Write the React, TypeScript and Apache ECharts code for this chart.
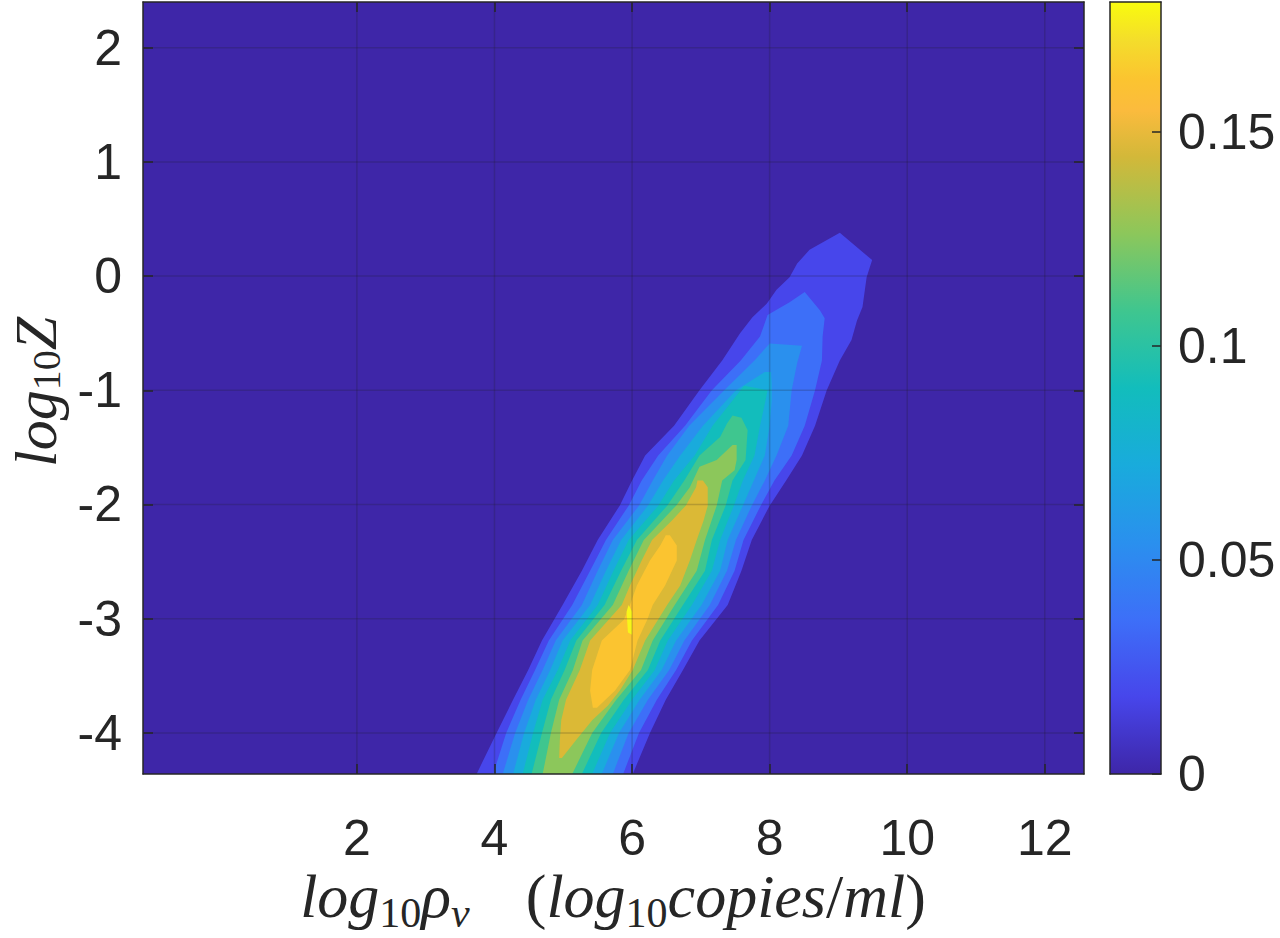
import React, { useEffect, useRef } from "react";
import * as echarts from "echarts";

// ---- axes ----
const X_MIN = -1.11;
const X_MAX = 12.57;
const Y_MIN = -4.36;
const Y_MAX = 2.4;
const X_TICKS = [2, 4, 6, 8, 10, 12];
const Y_TICKS = [-4, -3, -2, -1, 0, 1, 2];
const CB_MIN = 0;
const CB_MAX = 0.1804;
const CB_TICKS = [0, 0.05, 0.1, 0.15];

// parula colours of the 11 filled regions (background + 10 contour levels)
const LEVEL_COLORS = [
  "#3e26a8", "#4746eb", "#3d6ff8", "#2a90ee", "#19abdc", "#12bdbc",
  "#3fc68f", "#8cc75b", "#dbb936", "#fbc430", "#f8f619",
];
const COLORBAR_STOPS: [number, string][] = [
  [0, "#3e26a8"], [0.1, "#4746eb"], [0.2, "#3d6ff8"], [0.3, "#2a90ee"],
  [0.4, "#19abdc"], [0.5, "#12bdbc"], [0.6, "#3fc68f"], [0.7, "#8cc75b"],
  [0.8, "#d3b839"], [0.86, "#fbbb3d"], [0.9, "#fbc430"], [0.95, "#f4dd2b"],
  [1, "#f9fb0e"],
];

// ---- contour regions [log10 rho_v, log10 Z] (outer to inner) ----
const CONTOUR_1 = [
  [3.74, -4.36], [4.03, -4.0], [4.27, -3.71], [4.49, -3.45], [4.69, -3.19], [4.99, -2.88],
  [5.27, -2.58], [5.5, -2.31], [5.82, -2.01], [6.0, -1.79], [6.19, -1.57], [6.61, -1.31],
  [6.98, -1.0], [7.31, -0.74], [7.57, -0.5], [7.75, -0.36], [7.96, -0.24], [8.1, -0.12],
  [8.29, -0.01], [8.4, 0.11], [8.58, 0.23], [9.02, 0.38],
  [9.49, 0.14], [9.41, -0.01], [9.35, -0.27], [9.27, -0.39], [9.19, -0.56], [9.02, -0.74],
  [8.83, -1.0], [8.66, -1.31], [8.47, -1.57], [8.24, -1.79], [8.0, -2.01], [7.74, -2.31],
  [7.59, -2.58], [7.39, -2.88], [6.98, -3.19], [6.74, -3.45], [6.49, -3.71], [6.26, -4.0],
  [6.01, -4.36],
];
const CONTOUR_2 = [
  [3.98, -4.36], [4.17, -4.0], [4.38, -3.71], [4.59, -3.45], [4.79, -3.19], [5.13, -2.88],
  [5.39, -2.58], [5.62, -2.31], [5.95, -2.01], [6.14, -1.79], [6.38, -1.57], [6.77, -1.31],
  [7.16, -1.0], [7.58, -0.74], [7.86, -0.53], [7.97, -0.34], [8.29, -0.23], [8.51, -0.14],
  [8.73, -0.3], [8.8, -0.37], [8.77, -0.53], [8.76, -0.74], [8.66, -1.0], [8.51, -1.31],
  [8.32, -1.57], [8.07, -1.79], [7.87, -2.01], [7.62, -2.31], [7.49, -2.58], [7.25, -2.88],
  [6.87, -3.19], [6.64, -3.45], [6.36, -3.71], [6.1, -4.0], [5.87, -4.36],
];
const CONTOUR_3 = [
  [4.12, -4.36], [4.3, -4.0], [4.49, -3.71], [4.7, -3.45], [4.89, -3.19], [5.27, -2.88],
  [5.5, -2.58], [5.72, -2.31], [6.1, -2.01], [6.3, -1.79], [6.51, -1.57], [6.83, -1.31],
  [7.34, -1.0], [7.78, -0.74], [8.0, -0.59],
  [8.47, -0.61], [8.4, -0.76], [8.32, -1.0], [8.27, -1.31], [8.1, -1.57], [7.93, -1.79],
  [7.74, -2.01], [7.51, -2.31], [7.38, -2.58], [7.13, -2.88], [6.76, -3.19], [6.54, -3.45],
  [6.23, -3.71], [5.95, -4.0], [5.72, -4.36],
];
const CONTOUR_4 = [
  [4.27, -4.36], [4.43, -4.0], [4.6, -3.71], [4.81, -3.45], [4.99, -3.19], [5.39, -2.88],
  [5.62, -2.58], [5.84, -2.31], [6.23, -2.01], [6.45, -1.79], [6.7, -1.57], [7.03, -1.31],
  [7.51, -1.0], [7.93, -0.84],
  [8.02, -0.84], [8.03, -0.95], [8.03, -1.09], [8.0, -1.31], [7.93, -1.57], [7.77, -1.79],
  [7.61, -2.01], [7.39, -2.31], [7.28, -2.58], [7.01, -2.88], [6.64, -3.19], [6.43, -3.45],
  [6.11, -3.71], [5.81, -4.0], [5.56, -4.36],
];
const CONTOUR_5 = [
  [4.41, -4.36], [4.56, -4.0], [4.7, -3.71], [4.92, -3.45], [5.1, -3.19], [5.5, -2.88],
  [5.73, -2.58], [5.95, -2.31], [6.38, -2.01], [6.61, -1.79], [6.91, -1.57], [7.17, -1.31],
  [7.63, -0.96],
  [7.97, -1.0], [7.94, -1.09], [7.86, -1.31], [7.78, -1.57], [7.61, -1.79], [7.48, -2.01],
  [7.28, -2.31], [7.16, -2.58], [6.87, -2.88], [6.52, -3.19], [6.33, -3.45], [6.0, -3.71],
  [5.68, -4.0], [5.42, -4.36],
];
const CONTOUR_6 = [
  [4.54, -4.36], [4.69, -4.0], [4.82, -3.71], [5.02, -3.45], [5.19, -3.19], [5.6, -2.88],
  [5.84, -2.58], [6.07, -2.31], [6.51, -2.01], [6.76, -1.79], [6.98, -1.57], [7.28, -1.41],
  [7.38, -1.29], [7.46, -1.22],
  [7.59, -1.24], [7.68, -1.35], [7.65, -1.61], [7.46, -1.79], [7.36, -2.01], [7.16, -2.31],
  [7.06, -2.58], [6.74, -2.88], [6.41, -3.19], [6.23, -3.45], [5.88, -3.71], [5.55, -4.0],
  [5.27, -4.36],
];
const CONTOUR_7 = [
  [4.7, -4.36], [4.82, -4.0], [4.94, -3.71], [5.14, -3.45], [5.28, -3.19], [5.72, -2.88],
  [5.95, -2.58], [6.17, -2.31], [6.64, -2.01], [6.84, -1.85], [6.98, -1.67], [7.23, -1.61],
  [7.46, -1.48],
  [7.52, -1.48], [7.52, -1.61], [7.49, -1.7], [7.31, -1.79], [7.23, -2.01], [7.06, -2.31],
  [6.94, -2.58], [6.62, -2.88], [6.3, -3.19], [6.13, -3.45], [5.77, -3.71], [5.42, -4.0],
  [5.13, -4.36],
];
const CONTOUR_8 = [
  [4.94, -4.22], [4.95, -4.06], [4.97, -3.89], [5.04, -3.71], [5.24, -3.45], [5.39, -3.19],
  [5.85, -2.88], [5.97, -2.71], [6.14, -2.49], [6.29, -2.31], [6.58, -2.14], [6.78, -2.01],
  [6.93, -1.85], [6.95, -1.79],
  [7.03, -1.79], [7.1, -1.85], [7.1, -2.01], [7.04, -2.14], [6.94, -2.31], [6.84, -2.49],
  [6.7, -2.71], [6.51, -2.88], [6.19, -3.19], [6.01, -3.45], [5.82, -3.63], [5.65, -3.76],
  [5.42, -3.89], [5.19, -4.06], [4.98, -4.22],
];
const CONTOUR_9 = [
  [5.43, -3.78], [5.39, -3.63], [5.42, -3.45], [5.56, -3.19], [5.88, -3.01], [5.97, -2.88],
  [6.07, -2.71], [6.26, -2.49], [6.41, -2.36], [6.49, -2.27],
  [6.55, -2.27], [6.65, -2.36], [6.65, -2.49], [6.48, -2.71], [6.3, -2.88], [6.22, -3.01],
  [6.08, -3.19], [5.97, -3.45], [5.75, -3.63], [5.49, -3.78],
];
const CONTOUR_10 = [
  [5.95, -2.88], [6.0, -2.94], [6.0, -3.14], [5.94, -3.12], [5.92, -2.94],
];
const CONTOURS = [
  CONTOUR_1, CONTOUR_2, CONTOUR_3, CONTOUR_4, CONTOUR_5,
  CONTOUR_6, CONTOUR_7, CONTOUR_8, CONTOUR_9, CONTOUR_10,
];

// ---- titles ----
const X_TITLE =
  "{i|log}{sr|10}{i|ρ}{s|v}{sp| }{r|(}{i|log}{sr|10}{i|copies}{r|/}{i|ml}{r|)}";
const Y_TITLE = "{i|log}{sr|10}{i|Z}";

const AXIS_COLOR = "#262626";
const TICK_FONT = "Liberation Sans, Arial, Helvetica, sans-serif";
const SERIF = "Liberation Serif, Times New Roman, serif";

function titleRich(size: number, sub: number, line: number) {
  return {
    i: { fontFamily: SERIF, fontStyle: "italic", fontSize: size, lineHeight: line, verticalAlign: "middle", fill: AXIS_COLOR },
    r: { fontFamily: SERIF, fontSize: size, lineHeight: line, verticalAlign: "middle", fill: AXIS_COLOR },
    s: { fontFamily: SERIF, fontStyle: "italic", fontSize: sub, lineHeight: sub, verticalAlign: "bottom", fill: AXIS_COLOR },
    sr: { fontFamily: SERIF, fontSize: sub, lineHeight: sub, verticalAlign: "bottom", fill: AXIS_COLOR },
    sp: { fontFamily: SERIF, fontSize: size, lineHeight: line, width: Math.round(size * 0.9), fill: AXIS_COLOR },
  };
}

function mainAxisCommon(extra: any) {
  return {
    type: "value",
    gridIndex: 0,
    z: 10,
    splitLine: { show: false },
    axisLine: { show: true, onZero: false, lineStyle: { color: AXIS_COLOR, width: 1.5 } },
    ...extra,
  };
}

export default function App() {
  const ref = useRef<HTMLDivElement>(null);
  useEffect(() => {
    const chart = echarts.init(ref.current!, null, { renderer: "svg" });
    const tick = (values: number[]) => ({
      show: true, inside: true, length: 10, customValues: values,
      lineStyle: { color: AXIS_COLOR, width: 1.5 },
    });
    const option: any = {
      animation: false,
      backgroundColor: "#ffffff",
      grid: [
        { left: 143, top: 2, width: 941, height: 772, show: true, backgroundColor: LEVEL_COLORS[0], borderWidth: 0 },
        { left: 1110, top: 2, width: 51, height: 772, show: false },
      ],
      xAxis: [
        mainAxisCommon({
          position: "bottom", min: X_MIN, max: X_MAX,
          axisTick: tick(X_TICKS),
          axisLabel: { show: true, customValues: X_TICKS, fontSize: 50, fontFamily: TICK_FONT, color: AXIS_COLOR, margin: 39 },
        }),
        mainAxisCommon({
          position: "top", min: X_MIN, max: X_MAX,
          axisTick: tick(X_TICKS),
          axisLabel: { show: false },
        }),
        { type: "value", gridIndex: 1, position: "bottom", min: 0, max: 1, z: 10,
          axisLine: { show: true, onZero: false, lineStyle: { color: AXIS_COLOR, width: 1.5 } },
          axisTick: { show: false }, axisLabel: { show: false }, splitLine: { show: false } },
        { type: "value", gridIndex: 1, position: "top", min: 0, max: 1, z: 10,
          axisLine: { show: true, onZero: false, lineStyle: { color: AXIS_COLOR, width: 1.5 } },
          axisTick: { show: false }, axisLabel: { show: false }, splitLine: { show: false } },
      ],
      yAxis: [
        mainAxisCommon({
          position: "left", min: Y_MIN, max: Y_MAX,
          axisTick: tick(Y_TICKS),
          axisLabel: { show: true, customValues: Y_TICKS, fontSize: 50, fontFamily: TICK_FONT, color: AXIS_COLOR, margin: 21 },
        }),
        mainAxisCommon({
          position: "right", min: Y_MIN, max: Y_MAX,
          axisTick: tick(Y_TICKS),
          axisLabel: { show: false },
        }),
        { type: "value", gridIndex: 1, position: "right", min: CB_MIN, max: CB_MAX, z: 10,
          axisLine: { show: true, onZero: false, lineStyle: { color: AXIS_COLOR, width: 1.5 } },
          axisTick: { show: true, inside: true, length: 9, customValues: CB_TICKS, lineStyle: { color: AXIS_COLOR, width: 1.5 } },
          axisLabel: { show: true, customValues: CB_TICKS, fontSize: 50, fontFamily: TICK_FONT, color: AXIS_COLOR, margin: 17 },
          splitLine: { show: false } },
        { type: "value", gridIndex: 1, position: "left", min: CB_MIN, max: CB_MAX, z: 10,
          axisLine: { show: true, onZero: false, lineStyle: { color: AXIS_COLOR, width: 1.5 } },
          axisTick: { show: false }, axisLabel: { show: false }, splitLine: { show: false } },
      ],
      series: [
        {
          type: "custom",
          name: "contour",
          xAxisIndex: 0,
          yAxisIndex: 0,
          clip: true,
          silent: true,
          z: 2,
          data: CONTOURS.map((_, i) => [i, 0]),
          renderItem: (params: any, api: any) => {
            const poly = CONTOURS[params.dataIndex];
            return {
              type: "polygon",
              shape: { points: poly.map((p) => api.coord(p)) },
              style: { fill: LEVEL_COLORS[params.dataIndex + 1] },
            };
          },
        },
        {
          type: "custom",
          name: "gridX",
          xAxisIndex: 0,
          yAxisIndex: 0,
          silent: true,
          z: 3,
          data: X_TICKS.map((v) => [v, 0]),
          renderItem: (params: any, api: any) => {
            const v = X_TICKS[params.dataIndex];
            const a = api.coord([v, Y_MIN]);
            const b = api.coord([v, Y_MAX]);
            return { type: "line", shape: { x1: a[0], y1: a[1], x2: b[0], y2: b[1] },
              style: { stroke: "rgba(30,30,30,0.2)", lineWidth: 1.5 } };
          },
        },
        {
          type: "custom",
          name: "gridY",
          xAxisIndex: 0,
          yAxisIndex: 0,
          silent: true,
          z: 3,
          data: Y_TICKS.map((v) => [0, v]),
          renderItem: (params: any, api: any) => {
            const v = Y_TICKS[params.dataIndex];
            const a = api.coord([X_MIN, v]);
            const b = api.coord([X_MAX, v]);
            return { type: "line", shape: { x1: a[0], y1: a[1], x2: b[0], y2: b[1] },
              style: { stroke: "rgba(30,30,30,0.2)", lineWidth: 1.5 } };
          },
        },
        {
          type: "custom",
          name: "colorbar",
          xAxisIndex: 2,
          yAxisIndex: 2,
          silent: true,
          z: 2,
          data: [[0, 0]],
          renderItem: (params: any, api: any) => {
            const a = api.coord([0, CB_MAX]);
            const b = api.coord([1, CB_MIN]);
            return {
              type: "rect",
              shape: { x: a[0], y: a[1], width: b[0] - a[0], height: b[1] - a[1] },
              style: {
                fill: new echarts.graphic.LinearGradient(0, 1, 0, 0,
                  COLORBAR_STOPS.map(([offset, color]) => ({ offset, color }))),
              },
            };
          },
        },
      ],
      graphic: [
        {
          type: "text",
          x: 613,
          y: 896,
          style: { text: X_TITLE, rich: titleRich(62, 42, 76), align: "center", verticalAlign: "middle", fill: AXIS_COLOR },
        },
        {
          type: "text",
          x: 36,
          y: 392,
          rotation: Math.PI / 2,
          style: { text: Y_TITLE, rich: titleRich(60, 40, 60), align: "center", verticalAlign: "middle", fill: AXIS_COLOR },
        },
      ],
    };
    chart.setOption(option);
    return () => chart.dispose();
  }, []);
  return (
    <div
      ref={ref}
      style={{ position: "fixed", left: 0, top: 0, width: 1280, height: 938, background: "#ffffff" }}
    />
  );
}
